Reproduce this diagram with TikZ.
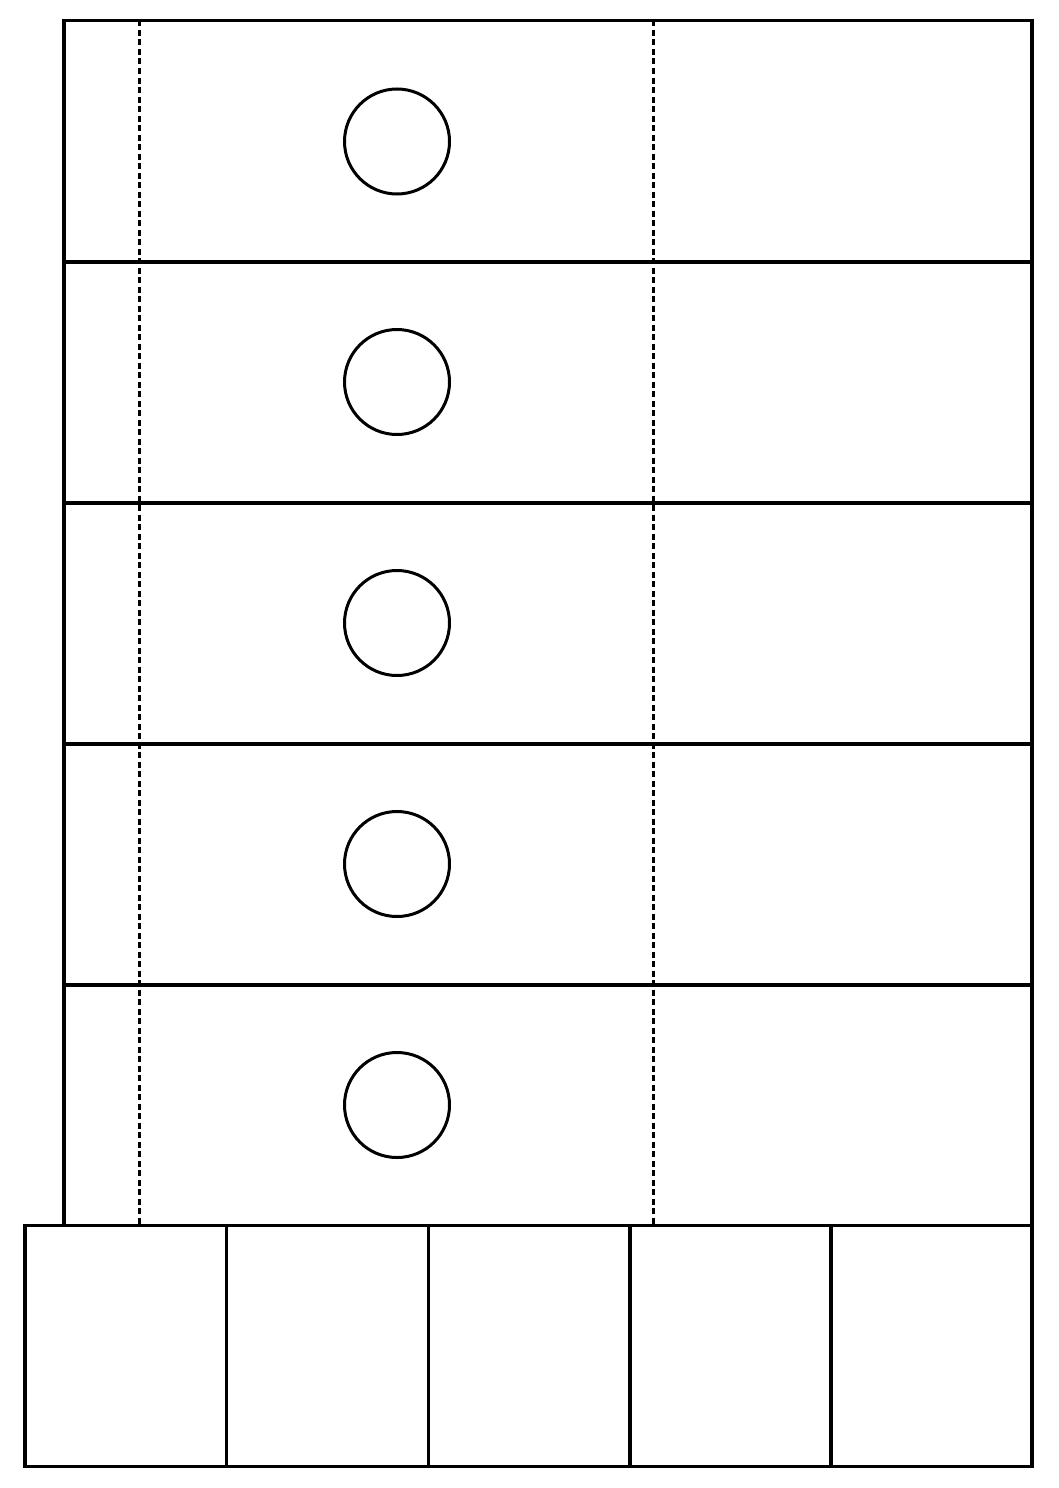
\documentclass[tikz,border=0pt]{standalone}
\begin{document}
\begin{tikzpicture}[x=1pt,y=-1pt,
  solidline/.style={line width=3.2pt,line cap=rect},
  dashline/.style={line width=2.4pt,dash pattern=on 6pt off 3.5pt},
  hole/.style={circle,draw,line width=3pt,minimum size=105pt,inner sep=0pt}]
\useasboundingbox (0,0) rectangle (1058,1488);
% dashed guides
\foreach \xx in {139.5,653.5}
  \draw[dashline] (\xx,20.5) -- (\xx,1225.5);
% upper rows
\draw[solidline] (64,1225.5) -- (64,20.5) -- (1032,20.5) -- (1032,1466.5);
\foreach \yy in {262,503,744,985}
  \draw[solidline] (64,\yy) -- (1032,\yy);
% circles
\foreach \yy [count=\i] in {141.5,382,623,864,1105}
  \node[hole] (c\i) at (397,\yy) {};
% bottom row
\draw[solidline] (25,1225.5) -- (1032,1225.5);
\draw[solidline] (25,1225.5) -- (25,1466.5) -- (1032,1466.5);
\foreach \xx in {226.5,428.5,630,831}
  \draw[solidline] (\xx,1225.5) -- (\xx,1466.5);
\end{tikzpicture}
\end{document}
